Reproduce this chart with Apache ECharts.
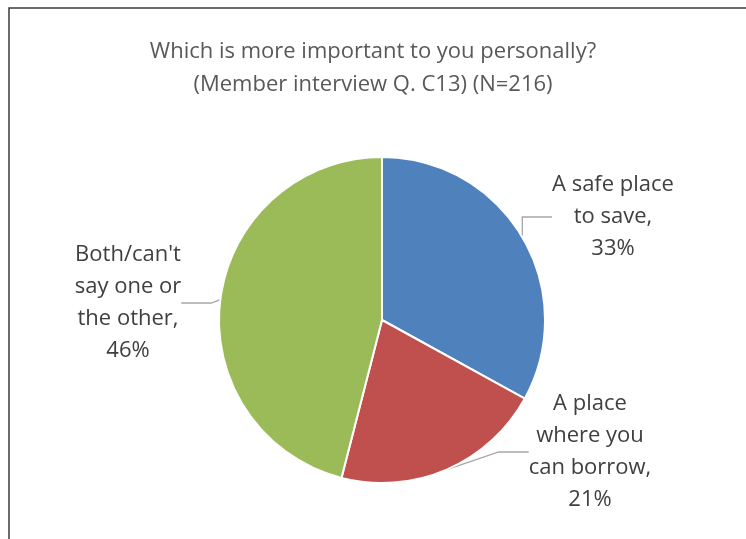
<!DOCTYPE html>
<html>
<head>
<meta charset="utf-8">
<script src="https://cdn.jsdelivr.net/npm/echarts@6/dist/echarts.min.js"></script>
<style>
  html, body { margin: 0; padding: 0; background: #fff; }
  #chart { width: 746px; height: 539px; }
</style>
</head>
<body>
<div id="chart"></div>
<script>
// answer categories and shares (%)
const categories = ['A safe place\nto save', 'A place\nwhere you\ncan borrow', "Both/can't\nsay one or\nthe other"];
const shares = [33, 21, 46];
const colors = ['#4F81BD', '#C0504D', '#9BBB59'];

// where each label block is centered
const labelSpots = [[613, 217], [590, 452], [128, 303]];

const myChart = echarts.init(document.getElementById('chart'));

const option = {
  animation: false,
  backgroundColor: '#fff',
  title: {
    text: 'Which is more important to you personally?\n(Member interview Q. C13) (N=216)',
    left: 'center',
    top: 30,
    textStyle: {
      fontFamily: 'Open Sans',
      fontWeight: 'normal',
      fontSize: 22,
      lineHeight: 33,
      color: '#595959'
    }
  },
  graphic: [{
    type: 'rect',
    shape: { x: 9, y: 8, width: 800, height: 600 },
    style: { fill: null, stroke: '#3a3a3a', lineWidth: 1.5 },
    silent: true
  }],
  series: [{
    type: 'pie',
    center: [382, 320],
    radius: 163,
    startAngle: 90,
    clockwise: true,
    data: categories.map((name, i) => ({
      name: name,
      value: shares[i],
      itemStyle: { color: colors[i] }
    })),
    itemStyle: { borderColor: '#fff', borderWidth: 2 },
    label: {
      show: true,
      position: 'outside',
      formatter: p => p.name + ',\n' + p.value + '%',
      fontFamily: 'Open Sans',
      fontSize: 22,
      lineHeight: 32,
      color: '#404040',
      align: 'center'
    },
    labelLine: {
      show: true,
      lineStyle: { color: '#A6A6A6', width: 1.3 }
    },
    labelLayout: p => ({
      x: labelSpots[p.dataIndex][0],
      y: labelSpots[p.dataIndex][1],
      align: 'center',
      verticalAlign: 'middle'
    }),
    emphasis: { disabled: true }
  }]
};

myChart.setOption(option);
window.addEventListener('resize', function () {
  myChart.resize();
});
</script>
</body>
</html>
